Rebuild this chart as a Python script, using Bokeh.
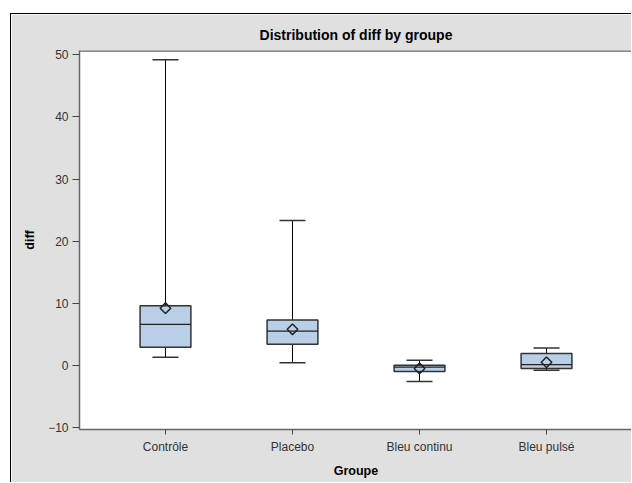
import numpy as np
from bokeh.plotting import figure
from bokeh.models import ColumnDataSource, FactorRange, Range1d, FixedTicker, Span
from bokeh.embed import file_html
from bokeh.resources import INLINE

# ---- data ----
groups = ["Contrôle", "Placebo", "Bleu continu", "Bleu pulsé"]
q_min = [1.3, 0.4, -2.6, -0.8]
q1 = [2.9, 3.4, -1.0, -0.5]
median = [6.6, 5.5, -0.3, 0.1]
q3 = [9.6, 7.3, 0.0, 1.9]
q_max = [49.2, 23.3, 0.8, 2.8]
means = [9.2, 5.8, -0.5, 0.5]
y_ticks = [-10, 0, 10, 20, 30, 40, 50]

src = ColumnDataSource(dict(g=groups, lo=q_min, q1=q1, med=median, q3=q3, hi=q_max, mean=means))

FONT = "Liberation Sans"
BG = "#E0E0E0"

p = figure(
    x_range=FactorRange(factors=groups, range_padding=0.177, range_padding_units="absolute"),
    y_range=Range1d(-10.33, 50.69),
    width=621, height=469,
    output_backend="svg", toolbar_location=None,
    title="Distribution of diff by groupe",
    min_border_left=68, min_border_right=0, min_border_top=36, min_border_bottom=54,
    margin=(13, 0, 0, 10),
    styles={"border-top": "1px solid black", "border-left": "1px solid black"},
)
p.background_fill_color = "white"
p.border_fill_color = BG
p.outline_line_color = None
p.xgrid.visible = False
p.ygrid.visible = False

p.title.align = "center"
p.title.text_font = FONT
p.title.text_font_size = "14px"
p.title.text_font_style = "bold"
p.title.text_color = "black"
p.title.standoff = 15

bottom = p.below[0]
yax = p.left[0]

for ax in (bottom, yax):
    ax.axis_line_color = "#666666"
    ax.axis_line_width = 1.5
    ax.major_tick_line_color = "#444444"
    ax.major_tick_in = 0
    ax.minor_tick_line_color = None
    ax.major_label_text_font = FONT
    ax.major_label_text_font_size = "12px"
    ax.major_label_text_color = "#333333"
    ax.axis_label_text_font = FONT
    ax.axis_label_text_font_size = "12.5px"
    ax.axis_label_text_font_style = "bold"
    ax.axis_label_text_color = "black"

bottom.axis_label = "Groupe"
bottom.major_tick_out = 5
bottom.major_label_standoff = 5
bottom.axis_label_standoff = 7

yax.axis_label = "diff"
yax.ticker = FixedTicker(ticks=y_ticks)
yax.major_tick_out = 7
yax.major_label_standoff = 4
yax.axis_label_standoff = 8

# top frame line
p.add_layout(Span(location=50.69, dimension="width", line_color="#666666", line_width=2.5))

# whiskers
p.segment(x0="g", y0="q3", x1="g", y1="hi", source=src, line_color="black", line_width=1)
p.segment(x0="g", y0="q1", x1="g", y1="lo", source=src, line_color="black", line_width=1)
# caps
p.scatter(x="g", y="hi", source=src, marker="dash", size=26, line_color="#333333", line_width=1.5)
p.scatter(x="g", y="lo", source=src, marker="dash", size=26, line_color="#333333", line_width=1.5)
# boxes
p.vbar(x="g", top="q3", bottom="q1", width=0.40, source=src,
       fill_color="#B9CFE8", line_color="#333333", line_width=1.5)
# medians
p.scatter(x="g", y="med", source=src, marker="dash", size=51, line_color="#222222", line_width=1.2)
# means
p.scatter(x="g", y="mean", source=src, marker="square", angle=np.pi / 4, size=7.5,
          fill_color=None, line_color="#222222", line_width=1.5)

open("out.html", "w").write(file_html(p, INLINE))
